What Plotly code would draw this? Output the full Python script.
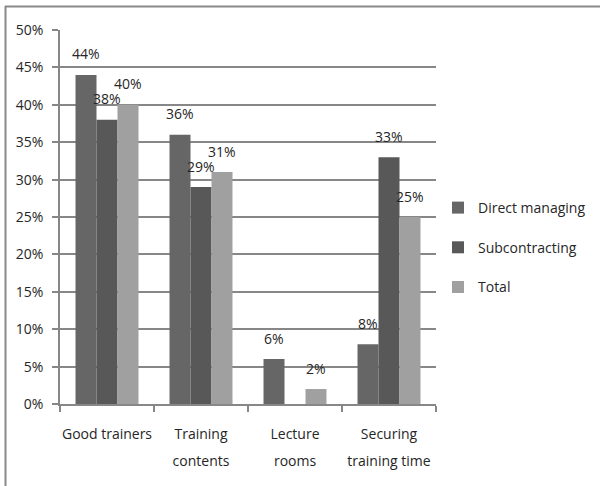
import plotly.graph_objects as go

# Survey shares by category and delivery model
categories = ["Good trainers", "Training contents", "Lecture rooms", "Securing training time"]
label_line1 = ["Good trainers", "Training", "Lecture", "Securing"]
label_line2 = ["", "contents", "rooms", "training time"]
series_names = ["Direct managing", "Subcontracting", "Total"]
direct_managing = [44, 36, 6, 8]
subcontracting = [38, 29, 0, 33]
total = [40, 31, 2, 25]
series_values = [direct_managing, subcontracting, total]
series_colors = ["#666666", "#585858", "#a0a0a0"]
y_ticks = [0, 5, 10, 15, 20, 25, 30, 35, 40, 45, 50]

W, H = 600, 486
L, R, T, B = 60, 164, 30, 82
BARGAP = 0.33
FONT = dict(family="Open Sans", size=14, color="#262626")
GRID = "#878787"

fig = go.Figure()
for i, (name, vals, col) in enumerate(zip(series_names, series_values, series_colors)):
    fig.add_trace(go.Bar(
        x=categories, y=vals, name=name, marker=dict(color=col, line=dict(width=0)),
        legendgroup=name, hoverinfo="skip",
    ))

# value labels floating above each bar
bar_w = (1 - BARGAP) / len(series_names)
for i, vals in enumerate(series_values):
    offset = (i - (len(series_names) - 1) / 2) * bar_w
    for j, v in enumerate(vals):
        if v == 0:
            continue
        fig.add_annotation(
            x=j + offset, y=v, xref="x", yref="y", text=f"{v}%", showarrow=False,
            yshift=21, yanchor="middle", xanchor="center", font=FONT,
        )

# second line of the wrapped category labels on an overlaid axis
fig.add_trace(go.Scatter(x=categories, y=[None] * 4, xaxis="x2", showlegend=False, hoverinfo="skip"))

def px_to_paper_x(px):
    return (px - L) / (W - L - R)

def px_to_paper_y(py):
    return (H - B - py) / (H - B - T)

fig.update_layout(
    width=W, height=H, margin=dict(l=L, r=R, t=T, b=B, autoexpand=False),
    paper_bgcolor="white", plot_bgcolor="white",
    barmode="group", bargap=BARGAP, bargroupgap=0,
    font=FONT,
    xaxis=dict(
        type="category", tickmode="array", tickvals=categories, ticktext=label_line1,
        showline=True, linecolor=GRID, linewidth=1.5,
        ticks="outside", tickson="boundaries", ticklen=6, tickcolor=GRID, tickwidth=1.5,
        showgrid=False, ticklabelstandoff=16, tickfont=FONT, tickangle=0, automargin=False,
    ),
    xaxis2=dict(
        type="category", overlaying="x", matches="x", anchor="y", side="bottom",
        tickmode="array", tickvals=categories, ticktext=label_line2,
        showline=False, ticks="", showgrid=False, ticklabelstandoff=47, tickfont=FONT,
        tickangle=0, automargin=False,
    ),
    yaxis=dict(
        range=[0, 50], tickmode="array", tickvals=y_ticks,
        ticktext=[f"{t}%" for t in y_ticks],
        showline=True, linecolor=GRID, linewidth=1.5,
        ticks="outside", ticklen=6, tickcolor=GRID, tickwidth=1.5,
        showgrid=True, gridcolor=GRID, gridwidth=1.5, zeroline=False,
        ticklabelstandoff=6, tickfont=FONT, automargin=False,
    ),
    legend=dict(
        x=px_to_paper_x(438), y=px_to_paper_y(192), xanchor="left", yanchor="top",
        traceorder="grouped", tracegroupgap=18.5, font=FONT, bgcolor="rgba(0,0,0,0)",
        itemclick=False, itemdoubleclick=False,
    ),
    shapes=[
        dict(type="line", xref="paper", yref="paper",
             x0=px_to_paper_x(5), x1=px_to_paper_x(W + 5), y0=px_to_paper_y(6.5), y1=px_to_paper_y(6.5),
             line=dict(color="#8a8a8a", width=2)),
        dict(type="line", xref="paper", yref="paper",
             x0=px_to_paper_x(5.5), x1=px_to_paper_x(5.5), y0=px_to_paper_y(6), y1=px_to_paper_y(H + 5),
             line=dict(color="#8a8a8a", width=2)),
    ],
)

fig.write_html("out.html", config=dict(displayModeBar=False))
